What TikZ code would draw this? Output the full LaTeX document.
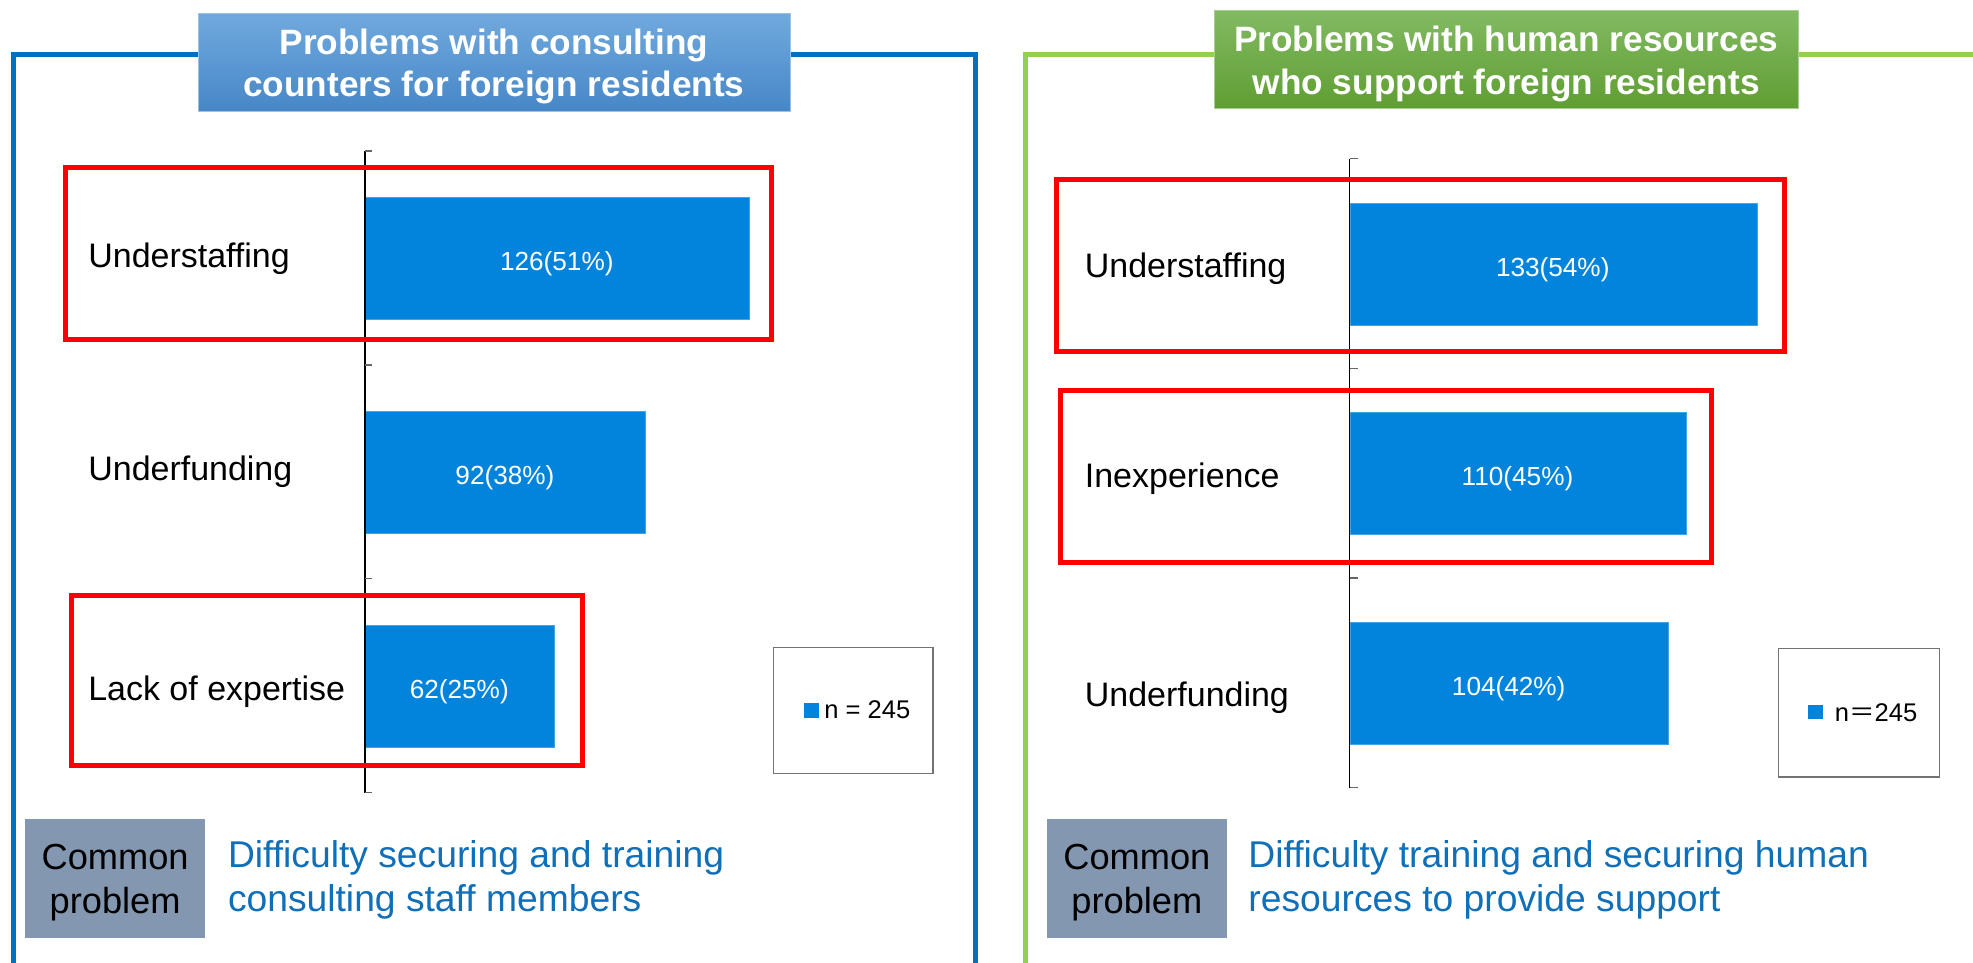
\documentclass[tikz,border=0pt]{standalone}
\usepackage{fontspec}
\setmainfont{Liberation Sans}
\newfontfamily\cjkfont{Noto Sans CJK JP}
\definecolor{frameblue}{HTML}{0070C0}
\definecolor{framegreen}{HTML}{92D050}
\definecolor{barblue}{HTML}{0384DC}
\definecolor{tbtop}{HTML}{70A9DE}
\definecolor{tbbot}{HTML}{4787C7}
\definecolor{tgtop}{HTML}{82BA62}
\definecolor{tgbot}{HTML}{5F9E32}
\definecolor{cpgray}{HTML}{8497B0}
\definecolor{txtblue}{HTML}{0F6FB8}
\tikzset{
  framepath/.style={line width=4pt},
  redbox/.style={draw=red, line width=4pt},
  barbox/.style={fill=barblue, draw=barblue!75!white, line width=0.6pt, inner sep=0pt, anchor=west, minimum height=97pt},
  barlabel/.style={text=white, anchor=base, inner sep=0pt, font=\fontsize{20.8}{24}\selectfont},
  catlabel/.style={anchor=base west, inner sep=0pt, font=\fontsize{27}{32}\selectfont},
  axisline/.style={black, line width=1pt},
  tickline/.style={black!60, line width=1pt},
  titlebox/.style={minimum width=#1, minimum height=78pt, inner sep=0pt, anchor=north west},
  titletext/.style={text=white, anchor=base, inner sep=0pt, font=\fontsize{28}{34}\bfseries},
  legendbox/.style={draw=black!55, line width=0.9pt, minimum width=127pt, minimum height=100pt, inner sep=0pt, anchor=north west},
  legendtext/.style={anchor=base west, inner sep=0pt, font=\fontsize{20.3}{24}\selectfont},
  graybox/.style={fill=cpgray, minimum width=143pt, minimum height=94pt, inner sep=0pt, anchor=north west},
  commontext/.style={anchor=base, inner sep=0pt, font=\fontsize{28.8}{34}\selectfont},
  bottomtext/.style={anchor=base west, inner sep=0pt, text=txtblue, font=\fontsize{29.6}{35}\selectfont}
}
\begin{document}
\begin{tikzpicture}[x=1pt, y=-1pt]
\useasboundingbox (0,0) rectangle (1568,765.3);
\clip (0,0) rectangle (1568,765.3);
\fill[white] (0,0) rectangle (1568,765.3);

% ---------- frames ----------
\draw[framepath, frameblue] (11,780) -- (11,43) -- (775,43) -- (775,780);
\draw[framepath, framegreen] (815,780) -- (815,43) -- (1580,43);

% ---------- titles ----------
\node[titlebox=471pt, top color=tbtop, bottom color=tbbot, draw=tbtop!70!white, line width=0.8pt] (ttlL) at (157,10) {};
\node[titletext] (ttlLa) at (392.5,43) {Problems with consulting};
\node[titletext] (ttlLb) at (392.5,77) {counters for foreign residents};

\node[titlebox=464pt, top color=tgtop, bottom color=tgbot, draw=tgtop!70!white, line width=0.8pt] (ttlR) at (965,8) {};
\node[titletext] (ttlRa) at (1197,41) {Problems with human resources};
\node[titletext] (ttlRb) at (1197,75) {who support foreign residents};

% ---------- left chart ----------
\node[barbox, minimum width=305pt] (lb1) at (290,205.5) {};
\node[barbox, minimum width=222.7pt] (lb2) at (290,375.5) {};
\node[barbox, minimum width=150pt] (lb3) at (290,545.5) {};
\node[barlabel] (lbl1) at (442.5,215) {126(51\%)};
\node[barlabel] (lbl2) at (401.3,385) {92(38\%)};
\node[barlabel] (lbl3) at (365,555) {62(25\%)};
\draw[axisline] (290,120) -- (290,630);
\foreach \yy in {120,290,460,630} \draw[tickline] (290,\yy) -- ++(6,0);
\node[catlabel] (lc1) at (70,212.5) {Understaffing};
\node[catlabel] (lc2) at (70,382) {Underfunding};
\node[catlabel] (lc3) at (70,556.4) {Lack of expertise};
\draw[redbox] (52,133) rectangle (613,270);
\draw[redbox] (57,473) rectangle (463,608);
\node[legendbox] (lgL) at (614,514) {};
\fill[barblue] (639,559) rectangle (651,571);
\node[legendtext] (lgLt) at (655,571) {n = 245};

% ---------- right chart ----------
\node[barbox, minimum width=323.5pt] (rb1) at (1072.5,210) {};
\node[barbox, minimum width=267.5pt] (rb2) at (1072.5,376.5) {};
\node[barbox, minimum width=253pt] (rb3) at (1072.5,543) {};
\node[barlabel] (rbl1) at (1234,219.5) {133(54\%)};
\node[barlabel] (rbl2) at (1206,386) {110(45\%)};
\node[barlabel] (rbl3) at (1199,552.5) {104(42\%)};
\draw[axisline] (1072.5,126) -- (1072.5,626);
\foreach \yy in {126,292.7,459.3,626} \draw[tickline] (1072.5,\yy) -- ++(7,0);
\node[catlabel] (rc1) at (862,220.5) {Understaffing};
\node[catlabel] (rc2) at (862,387.5) {Inexperience};
\node[catlabel] (rc3) at (862,561.5) {Underfunding};
\draw[redbox] (840,143) rectangle (1418.4,279.6);
\draw[redbox] (843,310.3) rectangle (1360,446.8);
\node[legendbox, minimum width=128pt, minimum height=102pt] (lgR) at (1413,515) {};
\fill[barblue] (1437,560.4) rectangle (1448.4,571.8);
\node[legendtext] (lgRt) at (1458,573.7) {n{\cjkfont ＝}245};

% ---------- bottom ----------
\node[graybox] (cpL) at (20,651) {};
\node[commontext] (cpLa) at (91.5,691) {Common};
\node[commontext] (cpLb) at (91.5,726) {problem};
\node[bottomtext] (btLa) at (181,689.5) {Difficulty securing and training};
\node[bottomtext] (btLb) at (181,724.7) {consulting staff members};

\node[graybox] (cpR) at (832,651) {};
\node[commontext] (cpRa) at (903.5,691) {Common};
\node[commontext] (cpRb) at (903.5,726) {problem};
\node[bottomtext] (btRa) at (992,689.5) {Difficulty training and securing human};
\node[bottomtext] (btRb) at (992,724.7) {resources to provide support};
\end{tikzpicture}
\end{document}
